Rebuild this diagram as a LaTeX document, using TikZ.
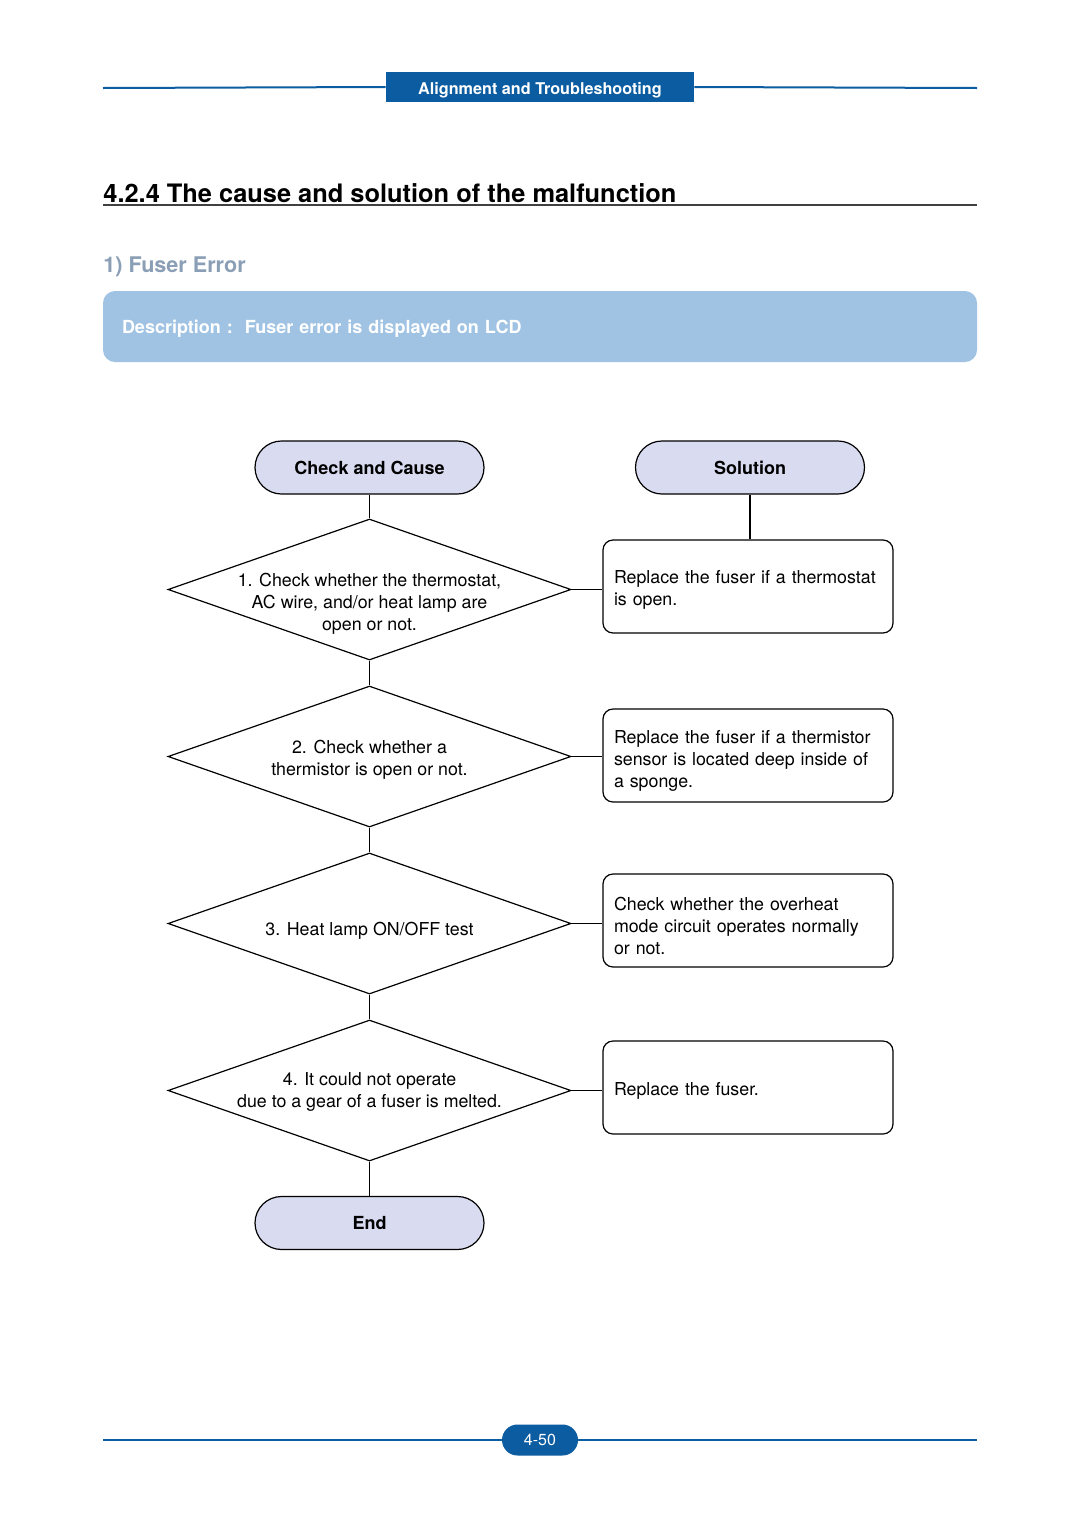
\documentclass[tikz,border=0pt]{standalone}
\usepackage{fontspec}
\setmainfont{TeX Gyre Heros}
\usetikzlibrary{shapes}

\definecolor{hdrblue}{HTML}{0B5CA0}
\definecolor{descfill}{HTML}{A0C3E3}
\definecolor{subgray}{HTML}{8A9FB5}
\definecolor{termfill}{HTML}{D9DBF0}

\begin{document}
\begin{tikzpicture}[x=0.5pt,y=-0.5pt]
  \useasboundingbox (0,0) rectangle (1080,1527);
  \fontsize{8.9}{11}\selectfont
  \tikzstyle{wire}=[line width=0.6pt]

%% page header and footer
  \node[fill=hdrblue,text=white,minimum width=154pt,minimum height=15pt,inner sep=0pt,text height=7.5pt,text depth=0pt,font=\fontsize{8.1}{10}\bfseries] (header) at (540,87) {Alignment and Troubleshooting};
  \coordinate (hdrL) at (103,88);
  \coordinate (hdrR) at (977,88);
  \draw[hdrblue,line width=1pt] (hdrL) -- (header.west) (header.east) -- (hdrR);
  \node[fill=hdrblue,text=white,rounded corners=7.75pt,minimum width=38pt,minimum height=15.5pt,inner sep=0pt,font=\fontsize{8}{10}\selectfont] (pageno) at (540,1440) {4-50};
  \coordinate (ftrL) at (103,1440);
  \coordinate (ftrR) at (977,1440);
  \draw[hdrblue,line width=1pt] (ftrL) -- (pageno.west) (pageno.east) -- (ftrR);

%% headings
  \node[anchor=base west,inner sep=0pt,font=\fontsize{12.7}{15}\bfseries] (title) at (103,202) {4.2.4 The cause and solution of the malfunction};
  \coordinate (ruleL) at (103,205);
  \coordinate (ruleR) at (977,205);
  \draw[black!75,line width=0.6pt] (ruleL) -- (ruleR);
  \node[anchor=base west,inner sep=0pt,text=subgray,font=\fontsize{10.8}{13}\bfseries] (fuser) at (103,272) {1) Fuser Error};
  \node[fill=descfill,rounded corners=6pt,text=white,font=\fontsize{9}{11}\bfseries,text width=418pt,inner xsep=9.5pt,minimum height=35.5pt,align=left,text height=8.6pt,text depth=1.9pt] (desc) at (540,326.5) {Description :\ \ Fuser error is displayed on LCD};

%% flow chart
  \tikzstyle{term}=[rectangle,draw,wire,rounded corners=13.25pt,fill=termfill,minimum width=114.5pt,minimum height=26.5pt,font=\fontsize{9}{11}\bfseries]
  \tikzstyle{test}=[diamond,draw,wire,minimum width=201.5pt,minimum height=70.5pt,inner sep=0pt]
  \tikzstyle{fix}=[rectangle,draw,wire,rounded corners=5pt,minimum width=145pt,minimum height=46.5pt]
  \tikzstyle{fixtext}=[text width=134pt,inner sep=0pt,align=left]

  \node[term] (cause) at (369.5,467.5) {Check and Cause};
  \node[term] (sol)   at (750,467.5)   {Solution};
  \node[term] (end)   at (369.5,1223)  {End};

  \foreach \n/\y/\ty/\txt in {1/589.5/604/{1. Check whether the thermostat,\\AC wire, and/or heat lamp are\\open or not.},
                              2/756.5/760/{2. Check whether a\\thermistor is open or not.},
                              3/923.5/931/{3. Heat lamp ON/OFF test},
                              4/1090.5/1092/{4. It could not operate\\due to a gear of a fuser is melted.}} {
    \node[test] (d\n) at (369.5,\y) {};
    \node[align=center,inner sep=0pt] (t\n) at (369.5,\ty) {\txt};
  }

  \foreach \n/\y/\ty/\txt in {1/586.5/590/{Replace the fuser if a thermostat\\is open.},
                              2/755.5/761/{Replace the fuser if a thermistor\\sensor is located deep inside of\\a sponge.},
                              3/920.5/926/{Check whether the overheat\\mode circuit operates normally\\or not.},
                              4/1087.5/1091/{Replace the fuser.}} {
    \node[fix] (b\n) at (748,\y) {};
    \node[fixtext] (s\n) at (748,\ty) {\txt};
    \draw[wire] (d\n.east) -- (d\n.east -| b\n.west);
  }

%% vertical connections
  \draw[wire] (cause) -- (d1);
  \foreach \a/\b in {1/2,2/3,3/4}
    \draw[wire] (d\a) -- (d\b);
  \draw[wire] (d4) -- (end);
  \draw[wire] (sol.south) -- (sol.south |- b1.north);
\end{tikzpicture}
\end{document}
